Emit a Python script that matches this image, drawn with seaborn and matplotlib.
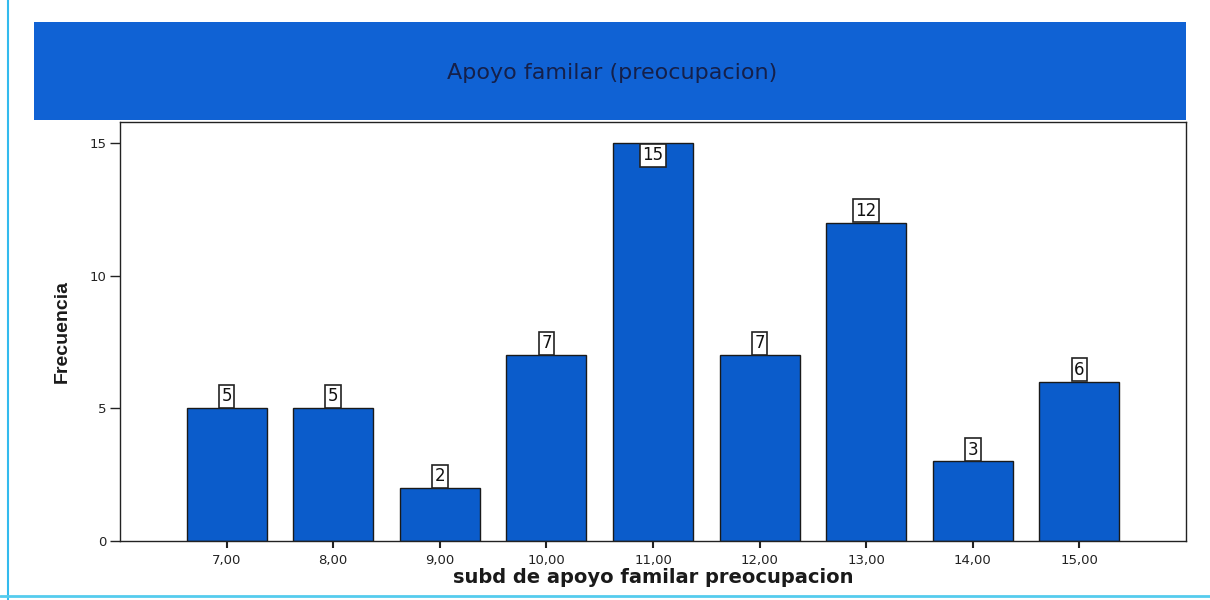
import pandas as pd
import matplotlib
matplotlib.use("Agg")
import matplotlib.pyplot as plt
from matplotlib.patches import Rectangle
from matplotlib.lines import Line2D
import seaborn as sns

# Data
categories = ["7,00", "8,00", "9,00", "10,00", "11,00", "12,00", "13,00", "14,00", "15,00"]
frequencies = [5, 5, 2, 7, 15, 7, 12, 3, 6]
yticks = [0, 5, 10, 15]

title = "Apoyo familar (preocupacion)"
xlabel = "subd de apoyo familar preocupacion"
ylabel = "Frecuencia"

bar_color = "#0b5ccb"
band_color = "#1062d4"

sns.set_theme(style="white")
plt.rcParams['font.family'] = ['DejaVu Sans']

df = pd.DataFrame({"cat": categories, "freq": frequencies})

fig = plt.figure(figsize=(12.1, 6), dpi=100)
fig.patch.set_facecolor("white")
ax = fig.add_axes([0.0992, 0.0983, 0.8810, 0.6984])

sns.barplot(data=df, x="cat", y="freq", color=bar_color, width=0.75,
            edgecolor="#1a1a1a", linewidth=1.0, saturation=1, ax=ax)

ax.set_xlim(-1, len(categories))
ax.set_ylim(0, 15.8)
ax.set_yticks(yticks)
ax.set_yticklabels([str(t) for t in yticks], fontsize=9.5, color="#222222")
ax.set_xticklabels(categories, fontsize=9.5, color="#222222")
ax.tick_params(axis="y", direction="out", length=7, width=1, color="#222222", left=True, pad=3)
ax.tick_params(axis="x", direction="out", length=5, width=1.5, color="#222222", bottom=True, pad=4)

for side in ["left", "bottom", "right", "top"]:
    ax.spines[side].set_visible(True)
    ax.spines[side].set_color("#222222")
    ax.spines[side].set_linewidth(1.0)

ax.set_xlabel(xlabel, fontsize=14, fontweight="bold", color="#1a1a1a", labelpad=1)
ax.set_ylabel(ylabel, fontsize=14, fontweight="bold", color="#1a1a1a", labelpad=13,
              family=['Liberation Sans', 'DejaVu Sans'])

# Value labels in boxes above each bar
for i, v in enumerate(frequencies):
    y = min(v + 0.45, 14.55)
    ax.text(i, y, str(v), ha="center", va="center", fontsize=12, color="#111111",
            bbox=dict(boxstyle="square,pad=0.15", facecolor="white", edgecolor="#222222", linewidth=1.2))

# Blue title band
fig.patches.append(Rectangle((0.0281, 0.800), 0.9519, 0.163, transform=fig.transFigure,
                             facecolor=band_color, edgecolor="none", zorder=0))
fig.text(0.506, 0.878, title, ha="center", va="center", fontsize=16, color="#15204a")

# Cyan frame lines
fig.lines.append(Line2D([0.0066, 0.0066], [0.0, 1.0], transform=fig.transFigure,
                        color="#33bbee", linewidth=1.5))
fig.lines.append(Line2D([0.0, 1.0], [0.006, 0.006], transform=fig.transFigure,
                        color="#55ccee", linewidth=2.0))

fig.savefig("out.png", dpi=100, facecolor="white")
